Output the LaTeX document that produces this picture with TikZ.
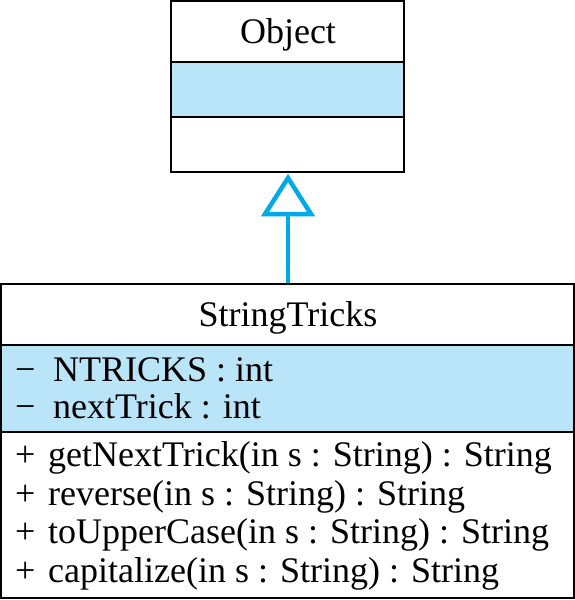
\documentclass[tikz,border=0pt]{standalone}
\usepackage{fontspec}
\setmainfont{Liberation Serif}
\definecolor{lightfill}{RGB}{186,228,248}
\definecolor{arrowcyan}{RGB}{0,170,230}
\tikzset{
  box/.style={draw=black, line width=2.2pt},
  attr/.style={inner sep=0pt, anchor=base west, font=\fontsize{36}{38}\selectfont},
  title/.style={inner sep=0pt, anchor=base, font=\fontsize{36}{38}\selectfont},
  inherit/.style={draw=arrowcyan, line width=4.5pt},
  hollowtip/.style={draw=arrowcyan, fill=white, line width=4.5pt, line join=miter}
}
\begin{document}
\begin{tikzpicture}[x=1pt,y=-1pt]
\useasboundingbox (0,0) rectangle (575,600);
% Object class
\fill[lightfill] (171,62) rectangle (404,117);
\draw[box] (171,1) rectangle (404,172);
\draw[box] (171,62) -- (404,62);
\draw[box] (171,117) -- (404,117);
\node[title] (obj) at (288,43) {Object};
% StringTricks class
\fill[lightfill] (1,345) rectangle (574,432);
\draw[box] (1,284) rectangle (574,598);
\draw[box] (1,345) -- (574,345);
\draw[box] (1,432) -- (574,432);
\node[title] (st) at (288,326) {StringTricks};
\node[attr] (a1s) at (15,381) {−};
\node[attr] (a1) at (53,381) {NTRICKS : int};
\node[attr] (a2s) at (15,418) {−};
\node[attr] (a2) at (53,418) {nextTrick : int};
\node[attr] (m1s) at (15,466) {+};
\node[attr] (m1) at (48,466) {getNextTrick(in s : String) : String};
\node[attr] (m2s) at (15,505) {+};
\node[attr] (m2) at (48,505) {reverse(in s : String) : String};
\node[attr] (m3s) at (15,543) {+};
\node[attr] (m3) at (48,543) {toUpperCase(in s : String) : String};
\node[attr] (m4s) at (15,582) {+};
\node[attr] (m4) at (48,582) {capitalize(in s : String) : String};
% inheritance
\coordinate (tip) at (288,178);
\coordinate (base) at (288,214);
\coordinate (bot) at (288,283);
\draw[inherit] (bot) -- (base);
\draw[hollowtip] (tip) -- (265,214) -- (311,214) -- cycle;
\end{tikzpicture}
\end{document}
